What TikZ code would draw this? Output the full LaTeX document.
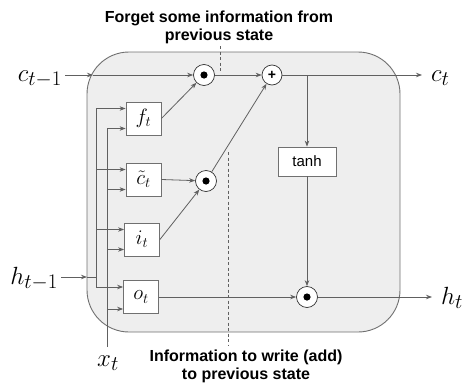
\documentclass[tikz,border=0pt]{standalone}
\usepackage{fontspec}
\setsansfont{Liberation Sans}
\usetikzlibrary{arrows.meta,calc}
\definecolor{boxfill}{HTML}{EEEEEE}
\definecolor{boxline}{HTML}{707070}
\definecolor{wire}{HTML}{606060}
\tikzset{
  wireline/.style={draw=wire, line width=0.8pt},
  arr/.style={wireline, -{Stealth[length=6pt,width=4.5pt]}},
  gate/.style={draw=boxline, fill=white, line width=0.8pt, minimum width=35pt, minimum height=33pt, inner sep=0pt, font=\fontsize{22}{24}\selectfont},
  mul/.style={circle, draw=black!80, fill=white, line width=0.7pt, minimum size=21pt, inner sep=0pt,
     path picture={\fill[black] (path picture bounding box.center) circle (3.6pt);}},
  addnode/.style={circle, draw=black!80, fill=white, line width=0.7pt, minimum size=20pt, inner sep=0pt, font=\sffamily\bfseries\fontsize{14}{14}\selectfont},
  biglab/.style={inner sep=0pt, font=\fontsize{27.5}{30}\selectfont},
  note/.style={align=center, font=\sffamily\bfseries\fontsize{16}{18}\selectfont, inner sep=0pt},
  dashline/.style={draw=wire, line width=0.8pt, dash pattern=on 3pt off 2.5pt},
}
\begin{document}
\begin{tikzpicture}[x=1pt,y=-1pt]
\useasboundingbox (0,0) rectangle (466,386);
% cell box
\path[fill=boxfill, draw=boxline, line width=0.9pt, rounded corners=42pt] (87,52) rectangle (400,332);

% dashed guides
\draw[dashline] (220,46) -- (220,71);
\draw[dashline] (228,152) -- (228,346);

% notes
\node[note] (forget) at (219,27) {Forget some information from\\previous state};
\node[note] (info) at (246,366) {Information to write (add)\\to previous state};

% gates
\node[gate] (f) at (143.5,118.5) {$f_t$};
\node[gate] (c) at (143.5,179.5) {$\tilde{c}_t$};
\node[gate] (i) at (142,239.5) {$i_t$};
\node[gate] (o) at (141,297) {$o_t$};
\node[draw=boxline, fill=white, line width=0.8pt, minimum width=58pt, minimum height=29pt, inner sep=0pt, font=\sffamily\fontsize{15}{15}\selectfont] (tanh) at (307,161.5) {tanh};

% pointwise ops
\node[mul] (m1) at (204,75) {};
\node[addnode] (a1) at (272,75) {+};
\node[mul] (m2) at (206,181) {};
\node[mul] (m3) at (307,297) {};

% labels
\node[biglab, anchor=base east] (cprev) at (62,81) {$c_{t-1}$};
\node[biglab, anchor=base west] (ct) at (431,81) {$c_t$};
\node[biglab, anchor=base east] (hprev) at (58,284) {$h_{t-1}$};
\node[biglab, anchor=base west] (ht) at (441,304) {$h_t$};
\node[biglab, anchor=base] (xt) at (108,366) {$x_t$};

% coordinates
\coordinate (cin) at (65,75);
\coordinate (cedge) at (93,75);
\coordinate (csplit) at (307,75);
\coordinate (cout) at (422,75);
\coordinate (hin) at (61,277);
\coordinate (hedge) at (87,277);
\coordinate (hjoin) at (96,277);
\coordinate (htop) at (96,108.5);
\coordinate (hbot) at (96,287);
\coordinate (xtop) at (107,128.5);
\coordinate (xbot) at (107,347);
\coordinate (hout) at (432,297);

% cell state line
\draw[arr] (cin) -- (cedge);
\draw[arr] (cedge) -- (m1);
\draw[arr] (m1) -- (a1);
\draw[arr] (a1) -- (cout);
\draw[arr] (csplit) -- (tanh.north);
\draw[arr] (tanh.south) -- (m3);
\draw[arr] (m3) -- (hout);

% gate outputs
\draw[arr] (f.east) -- (m1);
\draw[arr] (c.east) -- (m2);
\draw[arr] (i.east) -- (m2);
\draw[arr] (m2) -- (a1);
\draw[arr] (o.east) -- (m3);

% h input
\draw[arr] (hin) -- (hedge);
\draw[wireline] (hedge) -- (hjoin);
\draw[wireline] (htop) -- (hbot);
\draw[arr] (htop) -- ([yshift=10pt]f.west);
\draw[arr] ([yshift=10pt]c.west -| htop) -- ([yshift=10pt]c.west);
\draw[arr] ([yshift=10pt]i.west -| htop) -- ([yshift=10pt]i.west);
\draw[arr] (hbot) -- ([yshift=10pt]o.west);

% x input
\draw[wireline] (xbot) -- (xtop);
\draw[arr] (xtop) -- ([yshift=-10pt]f.west);
\draw[arr] ([yshift=-10pt]c.west -| xtop) -- ([yshift=-10pt]c.west);
\draw[arr] ([yshift=-10pt]i.west -| xtop) -- ([yshift=-10pt]i.west);
\draw[arr] ([yshift=-12pt]o.west -| xtop) -- ([yshift=-12pt]o.west);
\end{tikzpicture}
\end{document}
